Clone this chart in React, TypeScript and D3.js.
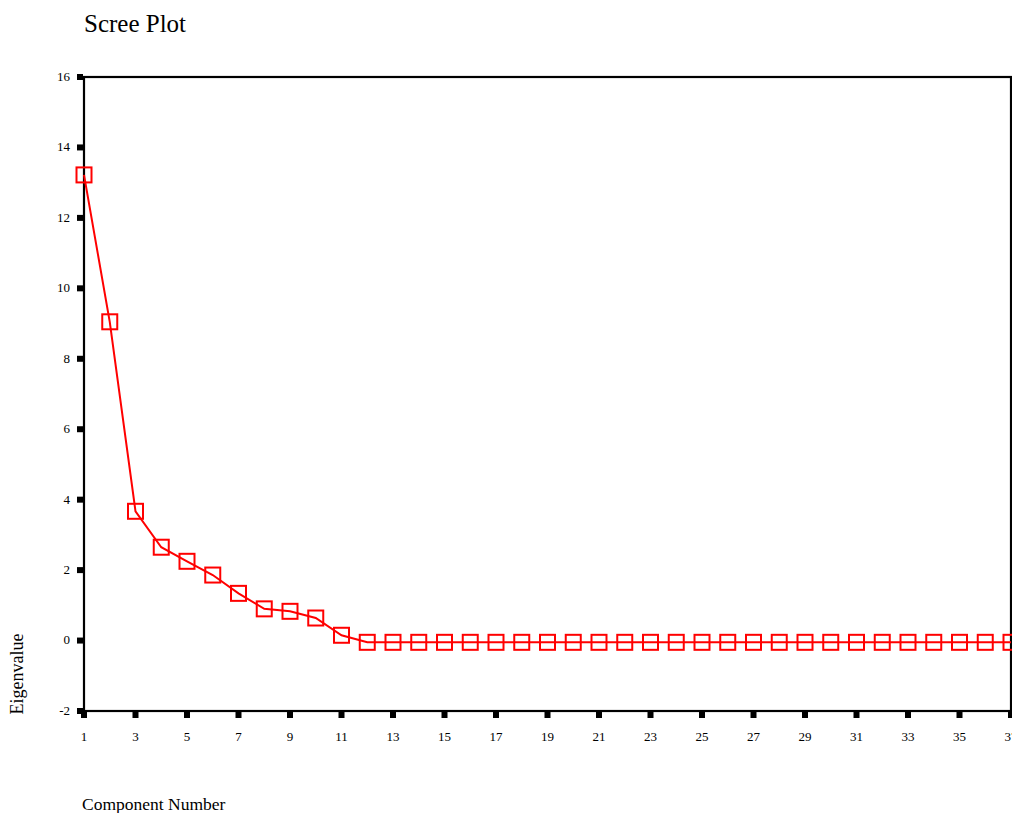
import * as d3 from 'd3'
import { useEffect, useRef } from 'react'

const width = 1012
const height = 813
const marginTop = 77
const marginRight = 1
const marginBottom = 102
const marginLeft = 84

const components = d3.range(1, 38)
const eigenvalues = [
  13.22, 9.05, 3.67, 2.65, 2.25, 1.86, 1.34, 0.9, 0.83, 0.64, 0.15,
  -0.05, -0.05, -0.05, -0.05, -0.05, -0.05, -0.05, -0.05, -0.05, -0.05,
  -0.05, -0.05, -0.05, -0.05, -0.05, -0.05, -0.05, -0.05, -0.05, -0.05,
  -0.05, -0.05, -0.05, -0.05, -0.05, -0.05,
]
const yTicks = [-2, 0, 2, 4, 6, 8, 10, 12, 14, 16]
const xTicks = d3.range(1, 38, 2)

const font = '"Liberation Serif", "Times New Roman", serif'

export default function App() {
  const ref = useRef<SVGSVGElement>(null)

  useEffect(() => {
    const svg = d3.select(ref.current)
    svg.selectAll('*').remove()

    const x = d3.scaleLinear([1, 37], [marginLeft, width - marginRight])
    const y = d3.scaleLinear([-2, 16], [height - marginBottom, marginTop])

    const data = components.map((c, i) => ({ c, v: eigenvalues[i] }))

    // frame
    svg
      .append('rect')
      .attr('x', marginLeft)
      .attr('y', marginTop)
      .attr('width', width - marginRight - marginLeft)
      .attr('height', height - marginBottom - marginTop)
      .attr('fill', 'none')
      .attr('stroke', '#000')
      .attr('stroke-width', 2.2)

    // y ticks: small squares left of axis
    const yg = svg.append('g')
    yg.selectAll('rect')
      .data(yTicks)
      .join('rect')
      .attr('x', marginLeft - 7)
      .attr('y', d => y(d) - 3)
      .attr('width', 6)
      .attr('height', 6)
      .attr('fill', '#000')
    yg.selectAll('text')
      .data(yTicks)
      .join('text')
      .attr('x', marginLeft - 14)
      .attr('y', d => y(d))
      .attr('dy', '0.3em')
      .attr('text-anchor', 'end')
      .attr('font-family', font)
      .attr('font-size', 13)
      .attr('fill', '#000')
      .text(d => d)

    // x ticks: small squares below axis
    const xg = svg.append('g')
    xg.selectAll('rect')
      .data(xTicks)
      .join('rect')
      .attr('x', d => x(d) - 3)
      .attr('y', height - marginBottom + 1)
      .attr('width', 6)
      .attr('height', 6)
      .attr('fill', '#000')
    xg.selectAll('text')
      .data(xTicks)
      .join('text')
      .attr('x', d => x(d))
      .attr('y', height - marginBottom + 30)
      .attr('text-anchor', 'middle')
      .attr('font-family', font)
      .attr('font-size', 13)
      .attr('fill', '#000')
      .text(d => d)

    // line
    const line = d3
      .line<{ c: number; v: number }>()
      .x(d => x(d.c))
      .y(d => y(d.v))
    svg
      .append('path')
      .attr('fill', 'none')
      .attr('stroke', '#ff0000')
      .attr('stroke-width', 2)
      .attr('d', line(data))

    // square markers
    svg
      .append('g')
      .selectAll('rect')
      .data(data)
      .join('rect')
      .attr('x', d => x(d.c) - 7.5)
      .attr('y', d => y(d.v) - 7.5)
      .attr('width', 15)
      .attr('height', 15)
      .attr('fill', 'none')
      .attr('stroke', '#ff0000')
      .attr('stroke-width', 2)

    // titles
    svg
      .append('text')
      .attr('x', 84)
      .attr('y', 32)
      .attr('font-family', font)
      .attr('font-size', 25)
      .text('Scree Plot')
    svg
      .append('text')
      .attr('x', 82)
      .attr('y', 810)
      .attr('font-family', font)
      .attr('font-size', 17.5)
      .text('Component Number')
    svg
      .append('text')
      .attr('transform', 'translate(23,674) rotate(-90)')
      .attr('text-anchor', 'middle')
      .attr('font-family', font)
      .attr('font-size', 18)
      .text('Eigenvalue')
  }, [])

  return (
    <svg
      ref={ref}
      width={width}
      height={height}
      viewBox={`0 0 ${width} ${height}`}
      style={{ position: 'absolute', left: 0, top: 0, background: '#fff' }}
    ></svg>
  )
}
